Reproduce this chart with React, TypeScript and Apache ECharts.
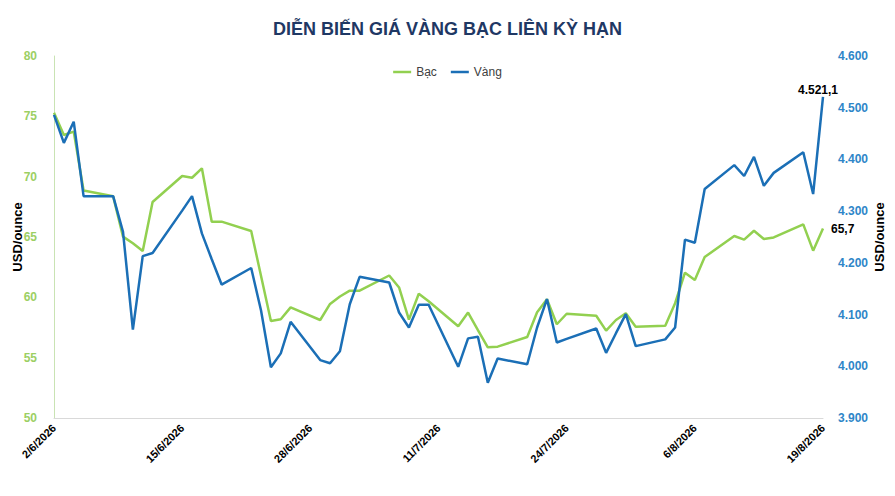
import React, { useEffect, useRef } from 'react';
import * as echarts from 'echarts';

// Trading days (dd/mm/yyyy)
const tradingDates = [
  '2/6/2026', '3/6/2026', '4/6/2026', '5/6/2026', '8/6/2026', '9/6/2026', '10/6/2026', '11/6/2026', '12/6/2026',
  '15/6/2026', '16/6/2026', '17/6/2026', '18/6/2026', '19/6/2026', '22/6/2026', '23/6/2026', '24/6/2026', '25/6/2026',
  '26/6/2026', '29/6/2026', '30/6/2026', '1/7/2026', '2/7/2026', '3/7/2026', '6/7/2026', '7/7/2026', '8/7/2026',
  '9/7/2026', '10/7/2026', '13/7/2026', '14/7/2026', '15/7/2026', '16/7/2026', '17/7/2026', '20/7/2026', '21/7/2026',
  '22/7/2026', '23/7/2026', '24/7/2026', '27/7/2026', '28/7/2026', '29/7/2026', '30/7/2026', '31/7/2026', '3/8/2026',
  '4/8/2026', '5/8/2026', '6/8/2026', '7/8/2026', '10/8/2026', '11/8/2026', '12/8/2026', '13/8/2026', '14/8/2026',
  '17/8/2026', '18/8/2026', '19/8/2026'
];

// Bạc (silver), USD/ounce
const silverPrices = [
  75.3, 73.45, 73.73, 68.85, 68.37, 65.03, 64.48, 63.84, 67.9,
  70.06, 69.91, 70.69, 66.27, 66.27, 65.5, 61.77, 58.04, 58.18,
  59.17, 58.12, 59.45, 60.07, 60.55, 60.55, 61.81, 60.82, 58.15,
  60.3, 59.68, 57.6, 58.74, 57.29, 55.86, 55.91, 56.71, 58.77,
  59.84, 57.77, 58.64, 58.47, 57.24, 58.12, 58.68, 57.57, 57.65,
  59.51, 62.04, 61.44, 63.34, 65.08, 64.78, 65.52, 64.83, 64.96,
  66.05, 63.87, 65.7
];

// Vàng (gold), USD/ounce
const goldPrices = [
  4486, 4432, 4473, 4329, 4329, 4260, 4071, 4213, 4219,
  4301, 4329, 4257, 4207, 4158, 4190, 4108, 3998, 4025,
  4086, 4012, 4006, 4029, 4120, 4173, 4162, 4104, 4075,
  4119, 4119, 3999, 4054, 4057, 3968, 4015, 4004, 4075,
  4130, 4046, 4053, 4073, 4026, 4064, 4101, 4039, 4052,
  4075, 4245, 4239, 4343, 4389, 4368, 4405, 4349, 4374,
  4414, 4333, 4521.1
];

const startDate = '2/6/2026';
const endDate = '19/8/2026';
const labelStepDays = 13;

const GREEN = '#92D050';
const BLUE = '#1B6FB6';
const FONT = '"Liberation Sans", Arial, sans-serif';

const parseDate = (s: string) => {
  const [d, m, y] = s.split('/').map(Number);
  return Date.UTC(y, m - 1, d);
};
const DAY = 86400000;
const dayOffset = (s: string) => Math.round((parseDate(s) - parseDate(startDate)) / DAY);
const dayLabel = (n: number) => {
  const dt = new Date(parseDate(startDate) + n * DAY);
  return `${dt.getUTCDate()}/${dt.getUTCMonth() + 1}/${dt.getUTCFullYear()}`;
};

// 4521.1 -> "4.521,1"
const fmtVN = (n: number, decimals: number) => {
  const [intPart, decPart] = n.toFixed(decimals).split('.');
  const withDots = intPart.replace(/\B(?=(\d{3})+(?!\d))/g, '.');
  return decPart ? `${withDots},${decPart}` : withDots;
};

// only the last point carries a value label
const buildSeries = (values: number[], label: any) =>
  values.map((v, i) => {
    const point = [dayOffset(tradingDates[i]), v];
    if (i === values.length - 1) return { value: point, label };
    return { value: point, label: { show: false } };
  });

const App: React.FC = () => {
  const chartRef = useRef<HTMLDivElement>(null);

  useEffect(() => {
    if (!chartRef.current) return;
    const chart = echarts.init(chartRef.current, null, { renderer: 'svg' });

    const option: any = {
      animation: false,
      backgroundColor: '#ffffff',
      title: {
        text: 'DIỄN BIẾN GIÁ VÀNG BẠC LIÊN KỲ HẠN',
        left: 'center',
        top: 15,
        textStyle: { fontFamily: FONT, fontSize: 18, fontWeight: 'bold', color: '#1F3864' }
      },
      legend: {
        top: 61,
        left: 'center',
        icon: 'rect',
        itemWidth: 18,
        itemHeight: 2.5,
        itemGap: 14,
        textStyle: { fontFamily: FONT, fontSize: 12, color: '#404040' },
        data: ['Bạc', 'Vàng']
      },
      grid: { left: 54, right: 72, top: 56, bottom: 78, containLabel: false, outerBoundsMode: 'none' },
      xAxis: {
        type: 'value',
        min: 0,
        max: dayOffset(endDate),
        interval: labelStepDays,
        axisLine: { show: true, onZero: false, lineStyle: { color: '#d9d9d9', width: 1 } },
        axisTick: { show: false },
        splitLine: { show: false },
        axisLabel: {
          rotate: 45,
          margin: 8,
          fontFamily: FONT,
          fontSize: 11,
          fontWeight: 'bold',
          color: '#000000',
          formatter: (v: number) => dayLabel(v)
        }
      },
      yAxis: [
        {
          type: 'value',
          position: 'left',
          offset: 5,
          min: 50,
          max: 80,
          interval: 5,
          name: 'USD/ounce',
          nameLocation: 'middle',
          nameRotate: 90,
          nameGap: 25,
          nameMoveOverlap: false,
          nameTextStyle: { fontFamily: FONT, fontSize: 13, fontWeight: 'bold', color: '#000000' },
          axisLine: { show: true, lineStyle: { color: '#C9E3B3', width: 1 } },
          axisTick: { show: false },
          splitLine: { show: false },
          axisLabel: { margin: 12, fontFamily: FONT, fontSize: 12, fontWeight: 'bold', color: '#9CCF63' }
        },
        {
          type: 'value',
          position: 'right',
          min: 3900,
          max: 4600,
          interval: 100,
          name: 'USD/ounce',
          nameLocation: 'middle',
          nameRotate: 90,
          nameGap: 50,
          nameMoveOverlap: false,
          nameTextStyle: { fontFamily: FONT, fontSize: 13, fontWeight: 'bold', color: '#000000' },
          axisLine: { show: false },
          axisTick: { show: false },
          splitLine: { show: false },
          axisLabel: {
            margin: 15,
            fontFamily: FONT,
            fontSize: 12,
            fontWeight: 'bold',
            color: '#2E86C8',
            formatter: (v: number) => fmtVN(v, 0)
          }
        }
      ],
      series: [
        {
          name: 'Bạc',
          type: 'line',
          yAxisIndex: 0,
          symbol: 'circle',
          symbolSize: 0,
          showSymbol: true,
          lineStyle: { color: GREEN, width: 2.5 },
          itemStyle: { color: GREEN },
          data: buildSeries(silverPrices, {
            show: true,
            position: 'right',
            distance: 8,
            fontFamily: FONT,
            fontSize: 12,
            fontWeight: 'bold',
            color: '#000000',
            formatter: (p: any) => fmtVN(p.value[1], 1)
          }),
          z: 2
        },
        {
          name: 'Vàng',
          type: 'line',
          yAxisIndex: 1,
          symbol: 'circle',
          symbolSize: 0,
          showSymbol: true,
          lineStyle: { color: BLUE, width: 2.5 },
          itemStyle: { color: BLUE },
          data: buildSeries(goldPrices, {
            show: true,
            position: 'top',
            distance: 1,
            offset: [-5, 0],
            fontFamily: FONT,
            fontSize: 12,
            fontWeight: 'bold',
            color: '#000000',
            formatter: (p: any) => fmtVN(p.value[1], 1)
          }),
          z: 3
        }
      ]
    };

    chart.setOption(option);
    return () => {
      chart.dispose();
    };
  }, []);

  return (
    <div
      ref={chartRef}
      style={{ position: 'absolute', left: 0, top: 0, width: '895px', height: '496px' }}
    />
  );
};

export default App;
